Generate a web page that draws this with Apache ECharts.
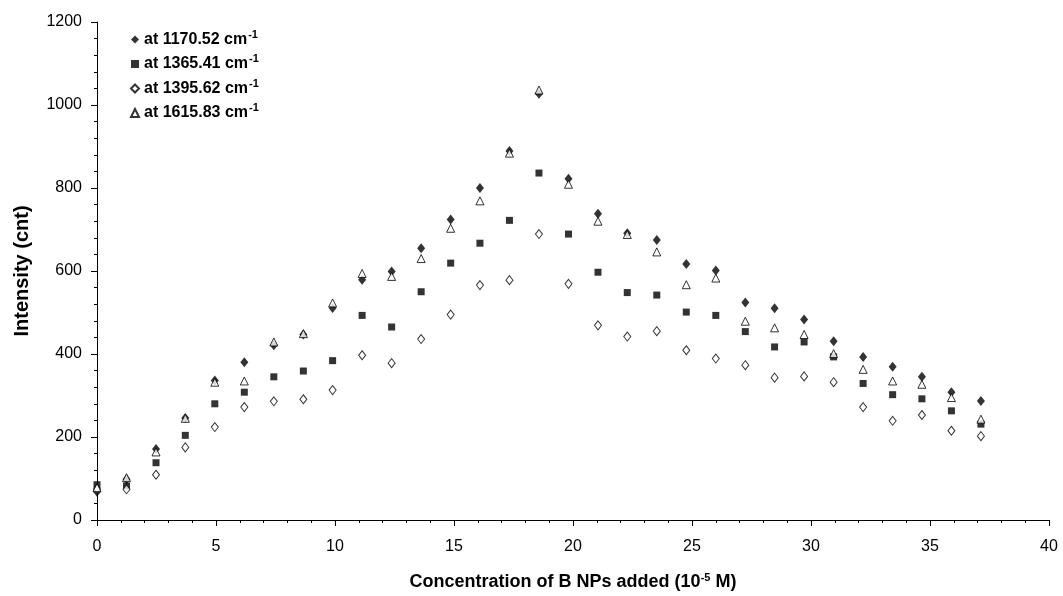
<!DOCTYPE html>
<html>
<head>
<meta charset="utf-8">
<script src="https://cdn.jsdelivr.net/npm/echarts@6/dist/echarts.min.js"></script>
<style>
  html, body { margin: 0; padding: 0; background: #fff; }
  #chart { width: 1063px; height: 596px; }
</style>
</head>
<body>
<div id="chart"></div>
<script>
// concentration of B NPs added (10^-5 M)
var conc = [0, 1.24, 2.48, 3.71, 4.95, 6.19, 7.43, 8.67, 9.9, 11.14,
  12.38, 13.62, 14.86, 16.09, 17.33, 18.57, 19.81, 21.05, 22.28, 23.52,
  24.76, 26.0, 27.24, 28.47, 29.71, 30.95, 32.19, 33.43, 34.66, 35.9, 37.14];

var i1170 = [68, 98, 171, 246, 336, 380, 421, 447, 511, 579,
  599, 655, 724, 800, 889, 1027, 822, 738, 691, 675,
  617, 601, 524, 510, 483, 431, 393, 369, 345, 308, 287];
var i1365 = [85, 82, 138, 204, 280, 308, 345, 359, 384, 493,
  465, 550, 619, 667, 722, 836, 689, 597, 548, 542,
  501, 493, 454, 417, 429, 393, 329, 302, 292, 263, 231];
var i1395 = [75, 74, 109, 175, 224, 272, 286, 291, 313, 397,
  378, 436, 495, 566, 578, 689, 569, 469, 442, 455,
  409, 389, 373, 343, 346, 332, 272, 239, 253, 215, 202];
var i1615 = [78, 102, 164, 245, 332, 335, 429, 449, 523, 594,
  587, 630, 703, 769, 884, 1036, 809, 720, 688, 646,
  567, 583, 479, 463, 447, 401, 363, 335, 327, 295, 243];

var names = ["at 1170.52 cm", "at 1365.41 cm", "at 1395.62 cm", "at 1615.83 cm"];

function pairs(ys) {
  return conc.map(function(x, i) { return [x, ys[i]]; });
}

var font = "Liberation Sans, Arial, sans-serif";

var chart = echarts.init(document.getElementById("chart"));

var option = {
  backgroundColor: "#fff",
  animation: false,
  grid: { left: 97, right: 14, top: 22, bottom: 76, containLabel: false, outerBoundsMode: "none" },
  legend: {
    orient: "vertical",
    left: 125,
    top: 24,
    itemGap: 6,
    itemWidth: 8,
    itemHeight: 8,
    data: names,
    formatter: function(name) {
      return "{b|" + name + "}{s|-1}";
    },
    textStyle: {
      rich: {
        b: { fontFamily: font, fontSize: 16, fontWeight: "bold", color: "#000", lineHeight: 20 },
        s: { fontFamily: font, fontSize: 11, fontWeight: "bold", color: "#000",
             padding: [0, 0, 10, 1] }
      }
    }
  },
  xAxis: {
    type: "value",
    min: 0,
    max: 40,
    interval: 5,
    name: "Concentration of B NPs added (10{s|-5} M)",
    nameLocation: "middle",
    nameGap: 52,
    nameTextStyle: {
      fontFamily: font, fontSize: 18, fontWeight: "bold", color: "#000",
      rich: {
        s: { fontFamily: font, fontSize: 11, fontWeight: "bold", color: "#000",
             padding: [0, 0, 10, 0] }
      }
    },
    axisLine: { lineStyle: { color: "#000", width: 1 } },
    axisTick: { length: 6, lineStyle: { color: "#000" } },
    minorTick: { show: true, splitNumber: 5, length: 3, lineStyle: { color: "#000" } },
    splitLine: { show: false },
    axisLabel: { fontFamily: font, fontSize: 16, color: "#000", margin: 19 }
  },
  yAxis: {
    type: "value",
    min: 0,
    max: 1200,
    interval: 200,
    name: "Intensity (cnt)",
    nameLocation: "middle",
    nameGap: 65,
    nameTextStyle: { fontFamily: font, fontSize: 20, fontWeight: "bold", color: "#000" },
    axisLine: { show: true, lineStyle: { color: "#000", width: 1 } },
    axisTick: { show: true, length: 6, lineStyle: { color: "#000" } },
    minorTick: { show: true, splitNumber: 5, length: 3, lineStyle: { color: "#000" } },
    splitLine: { show: false },
    axisLabel: {
      fontFamily: font, fontSize: 16, color: "#000", margin: 15,
      formatter: function(v) { return String(v); }
    }
  },
  series: [
    {
      name: names[0], type: "scatter", symbol: "diamond", symbolSize: [8, 10],
      itemStyle: { color: "#000" }, data: pairs(i1170)
    },
    {
      name: names[1], type: "scatter", symbol: "rect", symbolSize: 7,
      itemStyle: { color: "#000" }, data: pairs(i1365)
    },
    {
      name: names[2], type: "scatter", symbol: "diamond", symbolSize: [7, 9],
      itemStyle: { color: "#fff", borderColor: "#000", borderWidth: 1 }, data: pairs(i1395)
    },
    {
      name: names[3], type: "scatter", symbol: "triangle", symbolSize: 8,
      itemStyle: { color: "#fff", borderColor: "#000", borderWidth: 1 }, data: pairs(i1615)
    }
  ]
};
chart.setOption(option);
</script>
</body>
</html>
